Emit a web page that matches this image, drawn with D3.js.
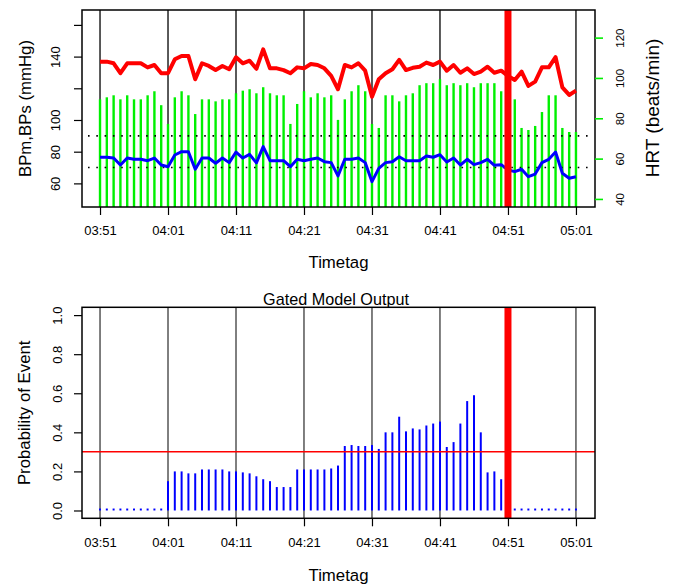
<!DOCTYPE html>
<html>
<head>
<meta charset="utf-8">
<script src="https://cdn.jsdelivr.net/npm/d3@7"></script>
<style>
	body { margin: 0; background: #fff; }
	svg text { font-family: "Liberation Sans", Arial, sans-serif; fill: #000; }
</style>
</head>
<body>
<div id="chart"></div>
<script>
'use strict';

// minutes after 03:51, one sample per minute
var minutes = d3.range(71);

var tickMinutes = [0, 10, 20, 30, 40, 50, 60, 70];
var tickLabels = ['03:51', '04:01', '04:11', '04:21', '04:31', '04:41', '04:51', '05:01'];

var eventMinute = 60;   // 04:51
var threshold = 0.3;

var bpTicks = [60, 80, 100, 120, 140, 160];
var bpTickLabels = ['60', '80', '100', '', '140', ''];
var hrTicks = [40, 60, 80, 100, 120];
var probTicks = [0, 0.2, 0.4, 0.6, 0.8, 1.0];
var bpRefLines = [90, 70];

var bps = [
	136.8, 136.8, 135.8, 129.5, 135.8, 135.8, 135.8, 133.2, 134.7, 129.5,
	129.5, 138.3, 140.4, 140.4, 125.7, 135.8, 134.1, 131.5, 134.1, 132.0,
	139.6, 135.8, 137.4, 132.3, 144.6, 132.6, 132.6, 131.5, 129.5, 133.2,
	132.6, 135.3, 134.7, 132.6, 127.8, 119.4, 134.7, 133.2, 135.8, 131.1,
	114.7, 125.7, 129.5, 132.0, 137.9, 131.5, 132.9, 133.6, 136.2, 134.7,
	136.8, 131.1, 134.7, 129.8, 132.6, 129.0, 130.5, 133.6, 129.8, 131.1,
	127.8, 125.2, 130.5, 121.5, 124.2, 133.2, 133.2, 139.6, 120.6, 115.8,
	118.5
];

var bpm = [
	76.5, 76.5, 76.0, 71.6, 76.0, 75.2, 75.2, 74.3, 76.0, 71.6,
	70.5, 77.9, 80.0, 80.0, 68.9, 76.0, 76.0, 72.7, 76.0, 73.1,
	79.8, 76.0, 78.3, 72.9, 83.2, 74.3, 74.3, 74.3, 70.5, 75.2,
	74.3, 75.2, 76.0, 73.7, 73.1, 64.7, 75.2, 75.2, 76.0, 73.1,
	61.1, 69.5, 73.1, 73.7, 76.8, 74.3, 74.3, 74.3, 77.3, 76.5,
	78.1, 73.5, 76.0, 71.6, 75.2, 71.8, 73.1, 75.2, 71.4, 71.8,
	68.5, 67.4, 68.9, 64.2, 65.9, 73.1, 75.2, 79.8, 66.4, 63.2,
	64.2
];

var hrt = [
	89.4, 90.4, 91.4, 89.4, 91.4, 89.4, 89.4, 91.4, 93.4, 86.5,
	77.2, 90.4, 93.4, 91.4, 82.1, 89.4, 89.4, 88.4, 89.4, 89.4,
	92.4, 93.7, 94.4, 92.4, 95.4, 92.4, 91.4, 91.4, 77.2, 87.1,
	93.4, 90.4, 92.4, 90.4, 91.4, 79.2, 89.4, 93.4, 96.4, 93.4,
	77.2, 75.2, 91.4, 91.4, 88.4, 91.4, 92.4, 96.4, 97.4, 97.4,
	99.4, 96.4, 97.4, 96.4, 97.4, 95.4, 97.4, 97.4, 97.4, 93.4,
	90.0, 89.4, 75.2, 74.2, 76.2, 83.1, 91.4, 91.4, 75.2, 73.2,
	73.2
];

var prob = [
	0.01, 0.01, 0.01, 0.01, 0.01, 0.01, 0.01, 0.01, 0.01, 0.01,
	0.15, 0.20, 0.20, 0.19, 0.19, 0.21, 0.21, 0.21, 0.21, 0.20,
	0.20, 0.195, 0.19, 0.175, 0.16, 0.15, 0.12, 0.12, 0.12, 0.21,
	0.21, 0.21, 0.21, 0.21, 0.215, 0.23, 0.33, 0.335, 0.33, 0.33,
	0.335, 0.315, 0.40, 0.40, 0.48, 0.405, 0.42, 0.415, 0.435, 0.445,
	0.455, 0.325, 0.35, 0.445, 0.56, 0.59, 0.40, 0.195, 0.20, 0.16,
	0.01, 0.01, 0.01, 0.01, 0.01, 0.01, 0.01, 0.01, 0.01, 0.01,
	0.01
];

var W = 674, H = 584;
var box = { left: 82, right: 595 };
var top1 = { top: 10, bottom: 207 };
var top2 = { top: 307.3, bottom: 518.3 };

var svg = d3.select('#chart').append('svg')
	.attr('width', W)
	.attr('height', H);

var x = d3.scaleLinear().domain([-2.65, 72.8]).range([box.left, box.right]);
var yBP = d3.scaleLinear().domain([45.1, 169.4]).range([top1.bottom, top1.top]);
var yHR = d3.scaleLinear().domain([36, 133.7]).range([top1.bottom, top1.top]);
var yP = d3.scaleLinear().domain([-0.04, 1.04]).range([top2.bottom, top2.top]);

function gridLines (g, area, width)	{
	g.selectAll('line.grid')
		.data(tickMinutes)
		.enter().append('line')
		.attr('x1', function (d) { return x(d); })
		.attr('x2', function (d) { return x(d); })
		.attr('y1', area.top)
		.attr('y2', area.bottom)
		.style('stroke', '#000')
		.style('stroke-width', width);
};

function eventBar (g, area)	{
	g.append('line')
		.attr('x1', x(eventMinute)).attr('x2', x(eventMinute))
		.attr('y1', area.top).attr('y2', area.bottom)
		.style('stroke', '#ff0000')
		.style('stroke-width', 7);
};

function frame (g, area)	{
	g.append('rect')
		.attr('x', box.left).attr('y', area.top)
		.attr('width', box.right - box.left)
		.attr('height', area.bottom - area.top)
		.style('fill', 'none')
		.style('stroke', '#000')
		.style('stroke-width', 1.5);
};

function timeAxis (g, area, titleY)	{
	var ax = d3.axisBottom(x)
		.tickValues(tickMinutes)
		.tickFormat(function (d, i) { return tickLabels[i]; })
		.tickSize(8)
		.tickPadding(11);

	var a = g.append('g')
		.attr('transform', 'translate(0,' + area.bottom + ')')
		.call(ax);
	a.select('.domain').remove();
	a.selectAll('line').style('stroke-width', 1.2);
	a.selectAll('text').style('font-size', '13px');

	g.append('text')
		.attr('x', (box.left + box.right) / 2)
		.attr('y', titleY)
		.attr('text-anchor', 'middle')
		.style('font-size', '16.8px')
		.text('Timetag');
};

function rotateLabels (a, dx, size)	{
	a.select('.domain').remove();
	a.selectAll('text')
		.attr('x', 0)
		.attr('dy', null)
		.attr('text-anchor', 'middle')
		.attr('dominant-baseline', 'central')
		.attr('transform', 'translate(' + dx + ',0) rotate(-90)')
		.style('font-size', size);
};

function sideTitle (g, tx, ty, size, label)	{
	g.append('text')
		.attr('transform', 'translate(' + tx + ',' + ty + ') rotate(-90)')
		.attr('text-anchor', 'middle')
		.attr('dominant-baseline', 'central')
		.style('font-size', size)
		.text(label);
};

// ---------- top panel: blood pressure and heart rate ----------
var p1 = svg.append('g').attr('id', 'vitals');

gridLines(p1, top1, 1.3);

p1.selectAll('line.hr')
	.data(minutes)
	.enter().append('line')
	.attr('class', 'hr')
	.attr('x1', function (d) { return x(d); })
	.attr('x2', function (d) { return x(d); })
	.attr('y1', top1.bottom)
	.attr('y2', function (d, i) { return yHR(hrt[i]); })
	.style('stroke', '#00f000')
	.style('stroke-width', 2.4);

p1.selectAll('line.ref')
	.data(bpRefLines)
	.enter().append('line')
	.attr('x1', box.left + 6).attr('x2', box.right - 2)
	.attr('y1', function (d) { return yBP(d); })
	.attr('y2', function (d) { return yBP(d); })
	.style('stroke', '#000')
	.style('stroke-width', 1.6)
	.style('stroke-dasharray', '1.6,6.7');

var bpLine = d3.line()
	.x(function (d) { return x(d); });

p1.append('path')
	.attr('d', bpLine.y(function (d, i) { return yBP(bps[i]); })(minutes))
	.style('fill', 'none')
	.style('stroke', '#ff0000')
	.style('stroke-width', 4)
	.style('stroke-linejoin', 'round');

p1.append('path')
	.attr('d', bpLine.y(function (d, i) { return yBP(bpm[i]); })(minutes))
	.style('fill', 'none')
	.style('stroke', '#0000ff')
	.style('stroke-width', 3)
	.style('stroke-linejoin', 'round');

eventBar(p1, top1);
frame(p1, top1);

var aL = p1.append('g')
	.attr('transform', 'translate(' + box.left + ',0)')
	.call(d3.axisLeft(yBP).tickValues(bpTicks)
		.tickFormat(function (d, i) { return bpTickLabels[i]; })
		.tickSize(8));
rotateLabels(aL, -27, '13px');
aL.selectAll('line').style('stroke-width', 1.2);

var aR = p1.append('g')
	.attr('transform', 'translate(' + box.right + ',0)')
	.call(d3.axisRight(yHR).tickValues(hrTicks).tickSize(8));
rotateLabels(aR, 25, '11.5px');
aR.selectAll('line').style('stroke', '#00f000').style('stroke-width', 1.6);

timeAxis(p1, top1, 268);
sideTitle(p1, 25, (top1.top + top1.bottom) / 2, '16.8px', 'BPm,BPs (mmHg)');
sideTitle(p1, 652, 108, '19px', 'HRT (beats/min)');

// ---------- bottom panel: model output ----------
var p2 = svg.append('g').attr('id', 'model');

gridLines(p2, top2, 1);

p2.selectAll('line.prob')
	.data(minutes)
	.enter().append('line')
	.attr('x1', function (d) { return x(d); })
	.attr('x2', function (d) { return x(d); })
	.attr('y1', yP(0))
	.attr('y2', function (d, i) { return yP(prob[i]); })
	.style('stroke', '#0000ff')
	.style('stroke-width', 2);

p2.append('line')
	.attr('x1', box.left).attr('x2', box.right)
	.attr('y1', yP(threshold)).attr('y2', yP(threshold))
	.style('stroke', '#ff0000')
	.style('stroke-width', 1.5);

eventBar(p2, top2);
frame(p2, top2);

var aP = p2.append('g')
	.attr('transform', 'translate(' + box.left + ',0)')
	.call(d3.axisLeft(yP).tickValues(probTicks)
		.tickFormat(d3.format('.1f'))
		.tickSize(8));
rotateLabels(aP, -25, '13px');
aP.selectAll('line').style('stroke-width', 1.2);

timeAxis(p2, top2, 581);
sideTitle(p2, 24, (top2.top + top2.bottom) / 2, '16.8px', 'Probability of Event');

p2.append('text')
	.attr('x', 336)
	.attr('y', 304.5)
	.attr('text-anchor', 'middle')
	.style('font-size', '16.2px')
	.text('Gated Model Output');
</script>
</body>
</html>
